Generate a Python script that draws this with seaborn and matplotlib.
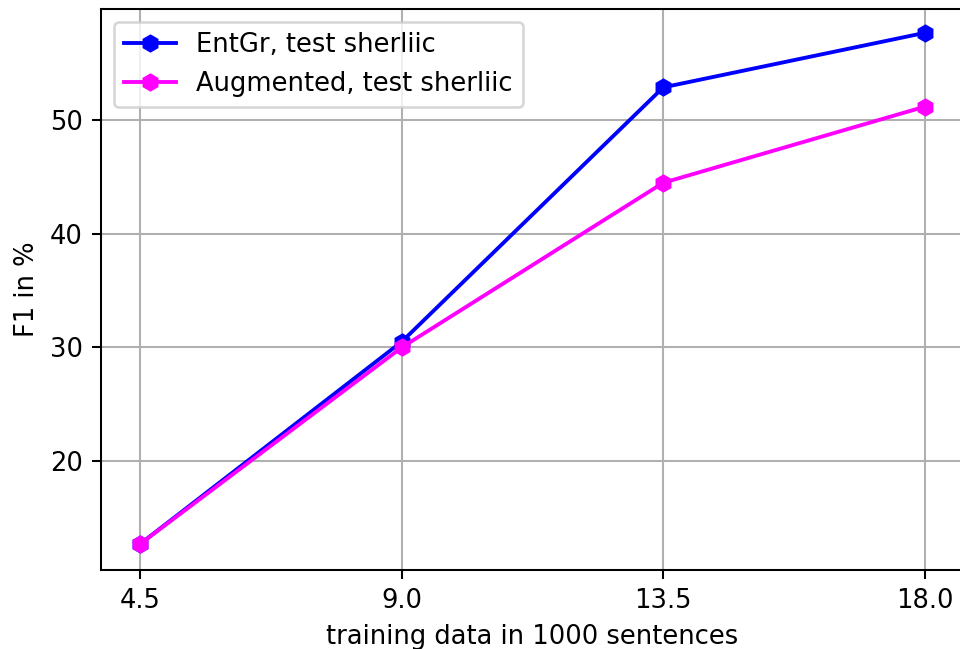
import matplotlib
matplotlib.use("Agg")
import matplotlib.pyplot as plt
import seaborn as sns
import pandas as pd

x_vals = [4.5, 9.0, 13.5, 18.0]
x_labels = ["4.5", "9.0", "13.5", "18.0"]
entgr = [12.7, 30.5, 52.9, 57.7]
augmented = [12.7, 30.0, 44.5, 51.2]
series_names = ["EntGr, test sherliic", "Augmented, test sherliic"]
colors = ["#0000ff", "#ff00ff"]

plt.rcParams['font.family'] = ['DejaVu Sans']
plt.rcParams['font.size'] = 10

dpi = 185
fig = plt.figure(figsize=(960 / dpi, 649 / dpi), dpi=dpi)
ax = fig.add_axes([101 / 960, 1 - 570 / 649, 863 / 960, 561 / 649])

for name, vals, c in zip(series_names, [entgr, augmented], colors):
    df = pd.DataFrame({"x": x_vals, "y": vals})
    sns.lineplot(data=df, x="x", y="y", ax=ax, color=c, marker="h",
                 markersize=6, markeredgecolor=c, markeredgewidth=1,
                 linewidth=1.5, label=name)

ax.set_xlim(3.825, 18.675)
ax.set_ylim(10.4, 59.8)
ax.set_xticks(x_vals)
ax.set_xticklabels(x_labels)
ax.set_yticks([20, 30, 40, 50])
ax.grid(True, color="#b0b0b0", linewidth=0.8)
ax.set_axisbelow(True)
ax.set_xlabel("training data in 1000 sentences")
ax.set_ylabel("F1 in %")
ax.legend(loc="upper left", framealpha=0.8)

fig.savefig("out.png", dpi=dpi)
